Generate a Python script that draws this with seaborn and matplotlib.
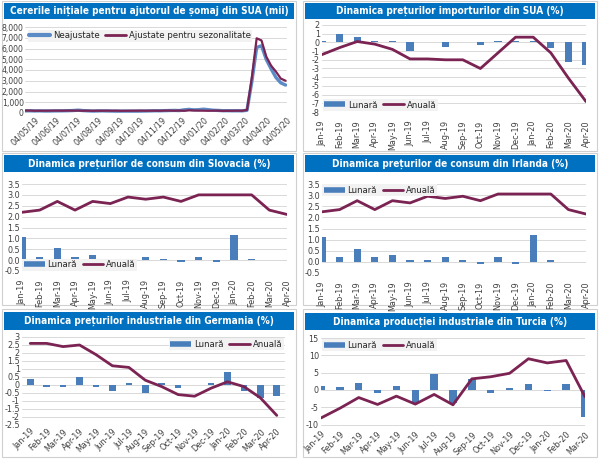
import numpy as np
import pandas as pd
import matplotlib.pyplot as plt
from matplotlib.lines import Line2D
from matplotlib.patches import Rectangle
from matplotlib.ticker import FuncFormatter, MultipleLocator
import seaborn as sns

BAR_BLUE = "#4a7ebb"
LINE_BLUE = "#5b8bc6"
MAROON = "#7b2352"
TITLE_BLUE = "#0070c0"
GRID = "#d9d9d9"
FRAME = "#d0d0d0"

# ===== data =====
# US initial jobless claims (thousands), weekly
claims_start = "2019-04-20"
claims_nsa = [196, 205,
              190, 200, 185, 184,
              195, 198, 205, 212, 230,
              263, 226, 200, 181,
              190, 201, 187, 180, 170,
              173, 175, 171, 173,
              177, 186, 194, 210,
              205, 218, 231, 240, 225,
              297, 336, 290, 307,
              355, 305, 255, 240,
              212, 215, 205, 206, 201,
              251, 2920, 6100, 6250,
              4971, 4100, 3300, 2800,
              2600]
claims_sa = [230, 228,
             212, 211, 215, 218,
             220, 222, 216, 227, 221,
             224, 209, 216, 206,
             215, 209, 220, 211, 217,
             204, 208, 213, 215,
             220, 210, 218, 212,
             211, 225, 227, 213, 228,
             203, 252, 235, 222,
             214, 207, 223, 216,
             202, 205, 211, 216, 211,
             282, 3307, 6950, 6750,
             5237, 4400, 3846, 3200,
             3000]

months_16 = ["Jan-19", "Feb-19", "Mar-19", "Apr-19", "May-19", "Jun-19", "Jul-19", "Aug-19",
             "Sep-19", "Oct-19", "Nov-19", "Dec-19", "Jan-20", "Feb-20", "Mar-20", "Apr-20"]
months_15 = months_16[:15]

# US import prices
us_monthly = [0.2, 1.0, 0.6, 0.2, 0.2, -1.0, 0.0, -0.5, 0.1, -0.3, 0.2, 0.2, 0.2, -0.6, -2.3, -2.6]
us_annual = [-1.4, -0.6, 0.1, -0.2, -0.8, -1.9, -1.9, -2.0, -2.0, -3.0, -1.2, 0.6, 0.6, -1.2, -4.1, -6.8]

# Slovakia CPI
sk_monthly = [1.05, 0.15, 0.55, 0.15, 0.25, 0.05, 0.05, 0.15, 0.05, -0.1, 0.15, -0.1, 1.15, 0.05]
sk_annual = [2.2, 2.3, 2.7, 2.3, 2.7, 2.6, 2.9, 2.8, 2.9, 2.7, 3.0, 3.0, 3.0, 3.0, 2.3, 2.1]

# Ireland CPI
ie_monthly = [1.1, 0.2, 0.6, 0.2, 0.3, 0.1, 0.1, 0.2, 0.1, -0.1, 0.2, -0.1, 1.2, 0.1]
ie_annual = [2.25, 2.35, 2.75, 2.35, 2.75, 2.65, 2.95, 2.85, 2.95, 2.75, 3.05, 3.05, 3.05, 3.05, 2.35, 2.15]

# Germany PPI
de_monthly = [0.4, -0.1, -0.1, 0.5, -0.1, -0.4, 0.1, -0.5, 0.1, -0.2, 0.0, 0.1, 0.8, -0.4, -0.8, -0.7]
de_annual = [2.6, 2.6, 2.4, 2.5, 1.9, 1.2, 1.1, 0.3, -0.1, -0.6, -0.7, -0.2, 0.2, -0.1, -0.8, -1.9]

# Turkey industrial production
tr_monthly = [1.0, 0.8, 2.1, -1.0, 1.0, -3.8, 4.7, -3.8, 3.3, -1.0, 0.6, 1.6, -0.3, 1.6, -7.7]
tr_annual = [-8.1, -5.3, -2.2, -4.2, -1.8, -4.1, -1.3, -4.3, 3.2, 3.8, 4.8, 9.0, 7.8, 8.5, -2.0]

sns.set_theme(style="white")
plt.rcParams["font.family"] = ["DejaVu Sans"]
plt.rcParams["font.stretch"] = "condensed"

W, H = 600, 459
fig = plt.figure(figsize=(W / 100, H / 100), dpi=100)


def rect(x0, y0, x1, y1, **kw):
    fig.add_artist(Rectangle((x0 / W, 1 - y1 / H), (x1 - x0) / W, (y1 - y0) / H,
                             transform=fig.transFigure, zorder=-5, **kw))


def panel(frame, bar, title, axbox):
    rect(*frame, facecolor="white", edgecolor=FRAME, lw=0.8)
    rect(*bar, facecolor=TITLE_BLUE, edgecolor="none")
    fig.text((bar[0] + bar[2]) / 2 / W, 1 - (bar[1] + bar[3]) / 2 / H, title,
             ha="center", va="center", color="white", fontsize=7.2, fontweight="bold",
             fontstretch="condensed")
    x0, y0, x1, y1 = axbox
    ax = fig.add_axes([x0 / W, 1 - y1 / H, (x1 - x0) / W, (y1 - y0) / H])
    ax.set_facecolor("none")
    for s in ax.spines.values():
        s.set_visible(False)
    ax.yaxis.grid(True, color=GRID, lw=0.7)
    ax.set_axisbelow(True)
    ax.tick_params(labelsize=6.5, length=0, pad=1.5, colors="#404040")
    return ax


def legend(ax, loc, handles, labels, axpad=0.3):
    ax.legend(handles, labels, loc=loc, ncol=2, fontsize=6.8, frameon=True, facecolor="#f2f2f2",
              edgecolor="none", framealpha=1, fancybox=False, handlelength=2.2,
              handletextpad=0.3, columnspacing=0.6, borderpad=0.15, borderaxespad=axpad)


def monthly_chart(ax, months, monthly, annual, ylim, step, xlim, rot, loc, fmt, axpad=0.3):
    bars = pd.DataFrame({"pos": np.arange(len(monthly)), "val": monthly})
    line = pd.DataFrame({"pos": np.arange(len(annual)), "val": annual})
    sns.barplot(data=bars, x="pos", y="val", native_scale=True, width=0.4, color=BAR_BLUE,
                saturation=1, errorbar=None, linewidth=0, ax=ax)
    sns.lineplot(data=line, x="pos", y="val", color=MAROON, lw=2, ax=ax)
    ax.set_xlim(*xlim)
    ax.set_ylim(*ylim)
    ax.yaxis.set_major_locator(MultipleLocator(step))
    ax.yaxis.set_major_formatter(FuncFormatter(fmt))
    ax.set_xticks(np.arange(len(months)))
    if rot == 90:
        ax.set_xticklabels(months, rotation=90, ha="center", va="top")
        ax.tick_params(axis="x", pad=6)
    else:
        ax.set_xticklabels(months, rotation=45, ha="right", rotation_mode="anchor")
    ax.set_xlabel("")
    ax.set_ylabel("")
    legend(ax, loc,
           [Line2D([], [], color=BAR_BLUE, lw=4, solid_capstyle="butt"), Line2D([], [], color=MAROON, lw=2)],
           ["Lunară", "Anuală"], axpad)


# ===== 1. US jobless claims =====
ax1 = panel((2, 1, 296, 151), (4, 3, 294, 19),
            "Cererile inițiale pentru ajutorul de șomaj din SUA (mii)", (25, 27, 287, 113))
claims = pd.DataFrame({
    "date": pd.date_range(claims_start, periods=len(claims_sa), freq="7D"),
    "Neajustate": claims_nsa,
    "Ajustate pentru sezonalitate": claims_sa,
})
sns.lineplot(data=claims, x="date", y="Neajustate", color=LINE_BLUE, lw=2.4, ax=ax1)
sns.lineplot(data=claims, x="date", y="Ajustate pentru sezonalitate", color=MAROON, lw=1.6, ax=ax1)
ax1.set_xlim(claims["date"].iloc[0], pd.Timestamp("2020-05-04"))
ax1.set_ylim(0, 8000)
ax1.yaxis.set_major_locator(MultipleLocator(1000))
ax1.yaxis.set_major_formatter(FuncFormatter(lambda v, p: f"{v:,.0f}"))
ax1.tick_params(axis="y", labelsize=6.2, pad=1)
ticks = pd.date_range("2019-05-01", "2020-05-01", freq="MS") + pd.Timedelta(days=3)
ax1.set_xticks(ticks)
ax1.set_xticklabels([t.strftime("%d/%m/%y") for t in ticks], rotation=45, ha="right",
                    rotation_mode="anchor")
ax1.set_xlabel("")
ax1.set_ylabel("")
legend(ax1, "upper left",
       [Line2D([], [], color=LINE_BLUE, lw=3), Line2D([], [], color=MAROON, lw=2)],
       ["Neajustate", "Ajustate pentru sezonalitate"])

# ===== 2. US import prices =====
ax2 = panel((303, 1, 597, 151), (305, 3, 595, 19),
            "Dinamica prețurilor importurilor din SUA (%)", (322, 25, 586, 112))
monthly_chart(ax2, months_16, us_monthly, us_annual, (-8, 2), 1, (0, 15), 90, "lower left",
              lambda v, p: f"{v:.0f}", axpad=0.1)

# ===== 3. Slovakia CPI =====
ax3 = panel((2, 153, 296, 305), (4, 155, 294, 172),
            "Dinamica prețurilor de consum din Slovacia (%)", (22, 184, 287, 271))
monthly_chart(ax3, months_16, sk_monthly, sk_annual, (-0.5, 3.5), 0.5, (0, 15), 90, "lower left",
              lambda v, p: f"{v:.1f}", axpad=0.05)

# ===== 4. Ireland CPI =====
ax4 = panel((303, 153, 597, 305), (305, 155, 595, 172),
            "Dinamica prețurilor de consum din Irlanda (%)", (322, 184, 586, 273))
monthly_chart(ax4, months_16, ie_monthly, ie_annual, (-0.5, 3.5), 0.5, (0, 15), 90, "upper left",
              lambda v, p: f"{v:.1f}", axpad=0.05)

# ===== 5. Germany PPI =====
ax5 = panel((2, 309, 296, 457), (4, 312, 294, 330),
            "Dinamica prețurilor industriale din Germania (%)", (22, 337, 285, 425))
monthly_chart(ax5, months_16, de_monthly, de_annual, (-2.5, 3), 0.5, (-0.5, 15.5), 45, "upper right",
              lambda v, p: f"{v:g}", axpad=0.15)

# ===== 6. Turkey industrial production =====
ax6 = panel((303, 309, 597, 457), (305, 313, 595, 330),
            "Dinamica producției industriale din Turcia (%)", (321, 338, 585, 428))
monthly_chart(ax6, months_15, tr_monthly, tr_annual, (-11, 15), 5, (0, 14), 45, "upper left",
              lambda v, p: f"{v:.0f}", axpad=0.15)

plt.savefig("out.png", dpi=100)
plt.close()
